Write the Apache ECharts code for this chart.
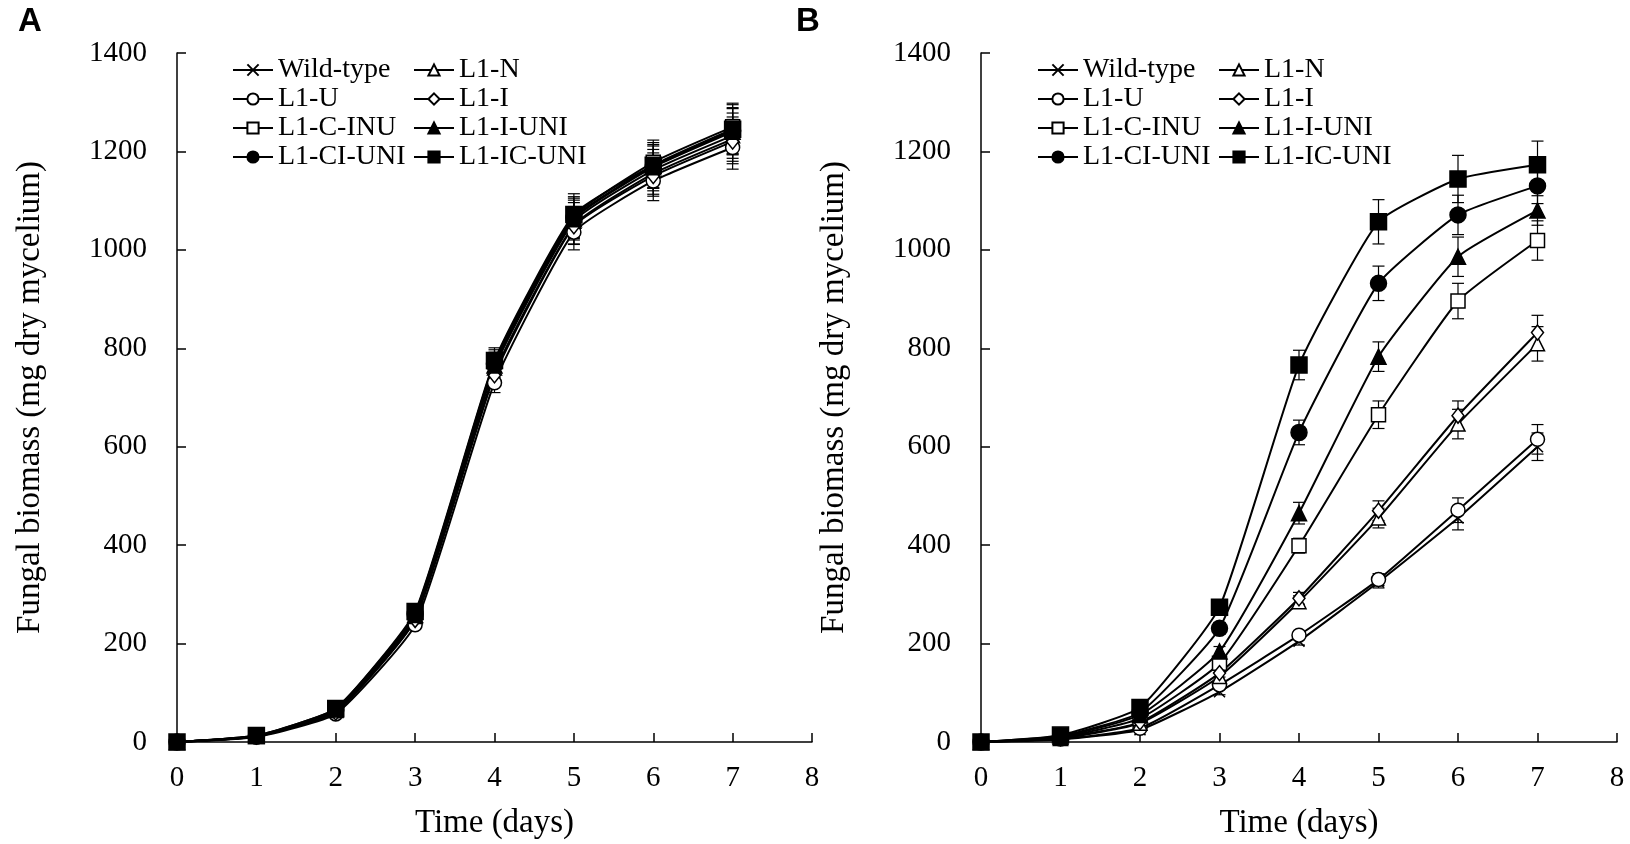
<!DOCTYPE html>
<html>
<head>
<meta charset="utf-8">
<title>Fungal biomass</title>
<script src="https://cdn.jsdelivr.net/npm/echarts@6/dist/echarts.min.js"></script>
<style>
  html, body { margin: 0; padding: 0; background: #fff; }
  #chart { width: 1630px; height: 844px; }
</style>
</head>
<body>
<div id="chart"></div>
<script>
// 数据
const days = [0, 1, 2, 3, 4, 5, 6, 7];
const xTicks = [0, 1, 2, 3, 4, 5, 6, 7, 8];
const yTicks = [0, 200, 400, 600, 800, 1000, 1200, 1400];

// legend column order
const legendCol1 = ['Wild-type', 'L1-U', 'L1-C-INU', 'L1-CI-UNI'];
const legendCol2 = ['L1-N', 'L1-I', 'L1-I-UNI', 'L1-IC-UNI'];

// Panel A
const aWildType = [0, 11, 62, 250, 750, 1050, 1155, 1225];
const aL1U      = [0, 10, 57, 238, 730, 1036, 1140, 1208];
const aL1CINU   = [0, 13, 68, 262, 772, 1068, 1178, 1250];
const aL1CIUNI  = [0, 12, 65, 260, 768, 1065, 1170, 1242];
const aL1N      = [0, 12, 64, 255, 760, 1058, 1162, 1232];
const aL1I      = [0, 11, 60, 248, 745, 1048, 1150, 1220];
const aL1IUNI   = [0, 12, 66, 258, 765, 1062, 1168, 1240];
const aL1ICUNI  = [0, 13, 68, 265, 775, 1072, 1172, 1245];

const aErrWildType = [0, 2, 5, 10, 22, 38, 42, 45];
const aErrL1U      = [0, 2, 5, 9, 20, 36, 40, 44];
const aErrL1CINU   = [0, 2, 6, 11, 25, 40, 45, 48];
const aErrL1CIUNI  = [0, 2, 6, 11, 24, 40, 44, 47];
const aErrL1N      = [0, 2, 5, 10, 23, 38, 42, 46];
const aErrL1I      = [0, 2, 5, 10, 22, 37, 41, 45];
const aErrL1IUNI   = [0, 2, 6, 11, 24, 39, 43, 47];
const aErrL1ICUNI  = [0, 2, 6, 12, 26, 42, 46, 50];

// Panel B
const bWildType = [0, 5, 25, 102, 205, 325, 455, 600];
const bL1U      = [0, 6, 28, 116, 217, 330, 471, 615];
const bL1CINU   = [0, 9, 48, 160, 399, 665, 896, 1019];
const bL1CIUNI  = [0, 12, 60, 231, 629, 932, 1071, 1130];
const bL1N      = [0, 7, 38, 133, 285, 455, 646, 809];
const bL1I      = [0, 8, 40, 140, 292, 470, 663, 832];
const bL1IUNI   = [0, 10, 55, 184, 465, 783, 986, 1080];
const bL1ICUNI  = [0, 14, 70, 274, 766, 1057, 1144, 1173];

const bErrWildType = [0, 1, 3, 6, 8, 12, 24, 28];
const bErrL1U      = [0, 1, 3, 6, 8, 12, 25, 30];
const bErrL1CINU   = [0, 2, 4, 10, 15, 28, 36, 40];
const bErrL1CIUNI  = [0, 2, 5, 12, 25, 35, 40, 36];
const bErrL1N      = [0, 1, 4, 8, 12, 20, 30, 35];
const bErrL1I      = [0, 1, 4, 8, 12, 20, 30, 35];
const bErrL1IUNI   = [0, 2, 5, 10, 22, 30, 40, 30];
const bErrL1ICUNI  = [0, 2, 6, 15, 30, 45, 48, 48];

const panelA = {
    'Wild-type': [aWildType, aErrWildType], 'L1-U': [aL1U, aErrL1U],
    'L1-C-INU': [aL1CINU, aErrL1CINU], 'L1-CI-UNI': [aL1CIUNI, aErrL1CIUNI],
    'L1-N': [aL1N, aErrL1N], 'L1-I': [aL1I, aErrL1I],
    'L1-I-UNI': [aL1IUNI, aErrL1IUNI], 'L1-IC-UNI': [aL1ICUNI, aErrL1ICUNI]
};
const panelB = {
    'Wild-type': [bWildType, bErrWildType], 'L1-U': [bL1U, bErrL1U],
    'L1-C-INU': [bL1CINU, bErrL1CINU], 'L1-CI-UNI': [bL1CIUNI, bErrL1CIUNI],
    'L1-N': [bL1N, bErrL1N], 'L1-I': [bL1I, bErrL1I],
    'L1-I-UNI': [bL1IUNI, bErrL1IUNI], 'L1-IC-UNI': [bL1ICUNI, bErrL1ICUNI]
};

// marker styles
const crossPath = 'path://M0,0L10,10M10,0L0,10';
const markers = {
    'Wild-type': { symbol: crossPath, size: 11, fill: '#000' },
    'L1-U':      { symbol: 'circle', size: 14, fill: '#fff' },
    'L1-C-INU':  { symbol: 'rect', size: 14, fill: '#fff' },
    'L1-CI-UNI': { symbol: 'circle', size: 16, fill: '#000' },
    'L1-N':      { symbol: 'triangle', size: 14, fill: '#fff' },
    'L1-I':      { symbol: 'diamond', size: [12, 15], fill: '#fff' },
    'L1-I-UNI':  { symbol: 'triangle', size: 15, fill: '#000' },
    'L1-IC-UNI': { symbol: 'rect', size: 16, fill: '#000' }
};

const serif = "'Liberation Serif', 'Times New Roman', serif";

function renderErr(params, api) {
    const x = api.value(0);
    const lo = api.value(1);
    const hi = api.value(2);
    if (hi - lo <= 0) return null;
    const top = api.coord([x, hi]);
    const bot = api.coord([x, lo]);
    const w = 6;
    const st = { stroke: '#000', lineWidth: 1.2 };
    return {
        type: 'group',
        children: [
            { type: 'line', shape: { x1: top[0], y1: top[1], x2: bot[0], y2: bot[1] }, style: st },
            { type: 'line', shape: { x1: top[0] - w, y1: top[1], x2: top[0] + w, y2: top[1] }, style: st },
            { type: 'line', shape: { x1: bot[0] - w, y1: bot[1], x2: bot[0] + w, y2: bot[1] }, style: st }
        ]
    };
}

function buildSeries(panel, idx) {
    const out = [];
    const errData = [];
    Object.keys(panel).forEach(name => {
        const vals = panel[name][0];
        const errs = panel[name][1];
        const m = markers[name];
        days.forEach((d, i) => errData.push([d, vals[i] - errs[i], vals[i] + errs[i]]));
        out.push({
            name: name,
            type: 'line',
            xAxisIndex: idx,
            yAxisIndex: idx,
            data: days.map((d, i) => [d, vals[i]]),
            smooth: 0.15,
            symbol: m.symbol,
            symbolSize: m.size,
            showAllSymbol: true,
            lineStyle: { color: '#000', width: 2 },
            itemStyle: { color: m.fill, borderColor: '#000', borderWidth: 1.5 },
            emphasis: { disabled: true },
            z: 3
        });
    });
    out.unshift({
        type: 'custom',
        xAxisIndex: idx,
        yAxisIndex: idx,
        renderItem: renderErr,
        encode: { x: 0, y: [1, 2] },
        data: errData,
        silent: true,
        z: 2
    });
    return out;
}

function xAxis(gridIndex) {
    return {
        type: 'value', gridIndex: gridIndex,
        min: 0, max: 8, interval: 1,
        name: 'Time (days)', nameLocation: 'middle', nameGap: 65,
        nameTextStyle: { fontFamily: serif, fontSize: 33, color: '#000' },
        axisLine: { lineStyle: { color: '#000', width: 1.5 } },
        axisTick: { inside: true, length: 9, lineStyle: { color: '#000', width: 1.5 } },
        axisLabel: { fontFamily: serif, fontSize: 29, color: '#000', margin: 22, formatter: v => String(v) },
        splitLine: { show: false }
    };
}

function yAxis(gridIndex) {
    return {
        type: 'value', gridIndex: gridIndex,
        min: 0, max: 1400, interval: 200,
        name: 'Fungal biomass (mg dry mycelium)', nameLocation: 'middle', nameGap: 130,
        nameTextStyle: { fontFamily: serif, fontSize: 33, color: '#000' },
        axisLine: { show: true, lineStyle: { color: '#000', width: 1.5 } },
        axisTick: { show: true, inside: true, length: 9, lineStyle: { color: '#000', width: 1.5 } },
        axisLabel: { fontFamily: serif, fontSize: 29, color: '#000', margin: 30, formatter: v => String(v) },
        splitLine: { show: false }
    };
}

function legend(left, data) {
    return {
        left: left, top: 51, orient: 'vertical',
        data: data,
        itemWidth: 40, itemHeight: 14, itemGap: 1,
        selectedMode: false,
        textStyle: { fontFamily: serif, fontSize: 28, lineHeight: 28, color: '#000' }
    };
}

const chart = echarts.init(document.getElementById('chart'));
const option = {
    backgroundColor: '#fff',
    animation: false,
    title: [
        { text: 'A', left: 13, top: 0, textStyle: { fontFamily: "'Liberation Sans', Arial", fontWeight: 'bold', fontSize: 33, color: '#000' } },
        { text: 'B', left: 791, top: 0, textStyle: { fontFamily: "'Liberation Sans', Arial", fontWeight: 'bold', fontSize: 33, color: '#000' } }
    ],
    legend: [
        legend(227, legendCol1), legend(408, legendCol2),
        legend(1032, legendCol1), legend(1213, legendCol2)
    ],
    grid: [
        { left: 177, top: 53, width: 635, height: 689, outerBoundsMode: 'none' },
        { left: 981, top: 53, width: 636, height: 689, outerBoundsMode: 'none' }
    ],
    xAxis: [xAxis(0), xAxis(1)],
    yAxis: [yAxis(0), yAxis(1)],
    series: buildSeries(panelA, 0).concat(buildSeries(panelB, 1))
};
chart.setOption(option);
</script>
</body>
</html>
